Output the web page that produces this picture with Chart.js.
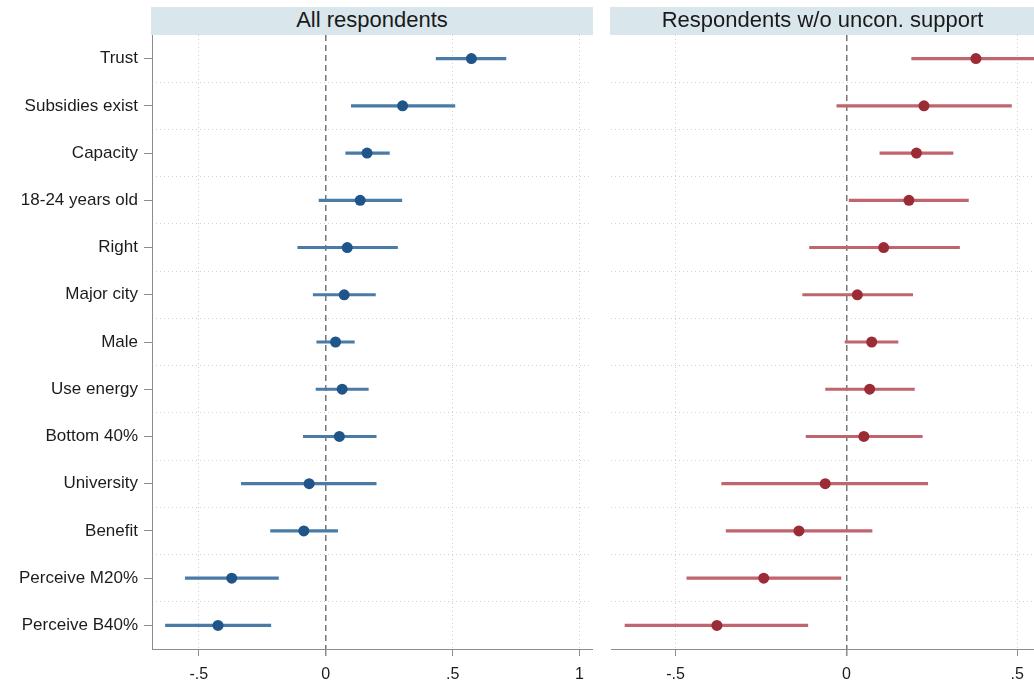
<!DOCTYPE html>
<html>
<head>
<meta charset="utf-8">
<script src="https://cdn.jsdelivr.net/npm/chart.js@4.4.1/dist/chart.umd.min.js"></script>
<style>
  html, body { margin: 0; padding: 0; background: #fff; overflow: hidden; width: 1034px; height: 684px; }
  canvas { position: absolute; top: 0; }
  .hdr { position: absolute; top: 7px; height: 28px; line-height: 28px; background: #d9e6ec;
         font: 22px "Liberation Sans", Arial, sans-serif; color: #1a1a1a; text-align: center; white-space: nowrap; overflow: hidden; }
</style>
</head>
<body>
<canvas id="left" width="600" height="684" style="left:0px"></canvas>
<canvas id="right" width="434" height="684" style="left:600px"></canvas>
<div id="hdrLeft" class="hdr"></div>
<div id="hdrRight" class="hdr"></div>
<script>
// rows, top to bottom
const categories = ["Trust", "Subsidies exist", "Capacity", "18-24 years old", "Right", "Major city",
  "Male", "Use energy", "Bottom 40%", "University", "Benefit", "Perceive M20%", "Perceive B40%"];

// panel 1: all respondents
const allEst = [0.574, 0.303, 0.163, 0.136, 0.085, 0.073, 0.039, 0.065, 0.054, -0.065, -0.086, -0.370, -0.424];
const allLo  = [0.435, 0.101, 0.079, -0.026, -0.110, -0.049, -0.035, -0.038, -0.088, -0.332, -0.217, -0.553, -0.631];
const allHi  = [0.710, 0.509, 0.251, 0.300, 0.283, 0.196, 0.113, 0.168, 0.199, 0.199, 0.047, -0.186, -0.216];

// panel 2: respondents without unconditional support
const subEst = [0.379, 0.227, 0.205, 0.183, 0.109, 0.032, 0.074, 0.068, 0.051, -0.062, -0.139, -0.242, -0.379];
const subLo  = [0.191, -0.028, 0.098, 0.008, -0.108, -0.128, -0.004, -0.061, -0.118, -0.365, -0.352, -0.467, -0.648];
const subHi  = [0.567, 0.483, 0.312, 0.357, 0.331, 0.194, 0.151, 0.199, 0.222, 0.238, 0.075, -0.016, -0.113];

const xTicks = [-0.5, 0, 0.5, 1];
const xTickLabels = ["-.5", "0", ".5", "1"];
const panelTitles = ["All respondents", "Respondents w/o uncon. support"];

const FONT = "'Liberation Sans', Arial, sans-serif";
const AXIS = "#8c8c8c";
const GRID = "#cfcfcf";

function hideEdges(c) {
  return (c.index === 0 || c.index === categories.length) ? "rgba(0,0,0,0)" : GRID;
}

function makePanel(id, est, lo, hi, lineColor, dotColor, xMin, xMax, withLabels) {
  const xAxis = {
    type: "linear", min: xMin, max: xMax,
    afterBuildTicks: s => { s.ticks = xTicks.filter(v => v >= xMin && v <= xMax).map(v => ({ value: v })); },
    ticks: { callback: v => xTickLabels[xTicks.indexOf(v)], font: { family: FONT, size: 16 }, color: "#1c1c1c", padding: 9, maxRotation: 0 },
    grid: {
      color: c => (c.tick && c.tick.value === 0) ? "#777777" : GRID,
      lineWidth: c => (c.tick && c.tick.value === 0) ? 1.5 : 1,
      tickColor: AXIS, tickLength: 7, tickBorderDash: []
    },
    border: { display: true, color: AXIS, width: 1, dash: c => (c.tick && c.tick.value === 0) ? [6, 4] : [1, 3] },
    afterFit: s => { s.height = 35; s.paddingLeft = 0; s.paddingRight = 0; }
  };

  const scales = { x: xAxis };
  if (withLabels) {
    scales.y = {
      type: "category", labels: categories, offset: true, position: "left",
      grid: { drawOnChartArea: false, offset: false, tickLength: 8, tickColor: AXIS },
      border: { display: true, color: AXIS, width: 1 },
      ticks: { font: { family: FONT, size: 17 }, color: "#1c1c1c", padding: 6, autoSkip: false },
      afterFit: s => { s.width = 152; }
    };
    scales.y2 = {
      type: "category", labels: categories, offset: true, position: "left",
      grid: { offset: true, drawTicks: false, color: hideEdges, lineWidth: 1 },
      border: { display: false, dash: [1, 3] },
      ticks: { display: false },
      afterFit: s => { s.width = 0; }
    };
  } else {
    scales.y = {
      type: "category", labels: categories, offset: true, position: "left",
      grid: { offset: true, drawTicks: false, color: hideEdges, lineWidth: 1 },
      border: { display: false, dash: [1, 3] },
      ticks: { display: false },
      afterFit: s => { s.width = 0; }
    };
  }

  return new Chart(document.getElementById(id), {
    type: "bar",
    data: {
      labels: categories,
      datasets: [
        {
          type: "line", indexAxis: "y", data: est, showLine: false, order: 0,
          pointRadius: 5.5, pointHoverRadius: 5.5, pointBorderWidth: 0,
          pointBackgroundColor: dotColor, borderColor: dotColor
        },
        {
          type: "bar", data: categories.map((c, i) => [lo[i], hi[i]]), order: 1,
          backgroundColor: lineColor, borderWidth: 0, barThickness: 2.5
        }
      ]
    },
    options: {
      responsive: false, animation: false, indexAxis: "y",
      layout: { autoPadding: false, padding: { top: 35, bottom: 0, left: withLabels ? 0 : 11, right: withLabels ? 8 : 0 } },
      plugins: { legend: { display: false }, tooltip: { enabled: false } },
      scales: scales
    }
  });
}

const leftChart = makePanel("left", allEst, allLo, allHi, "#4a7aa6", "#1f5589", -0.684, 1.049, true);
const rightChart = makePanel("right", subEst, subLo, subHi, "#c0646d", "#9b2c36", -0.689, 0.549, false);

function placeHeader(divId, chart, offsetX, text) {
  const a = chart.chartArea;
  const d = document.getElementById(divId);
  d.textContent = text;
  d.style.left = (offsetX + a.left - 1) + "px";
  d.style.width = (a.right - a.left + 2) + "px";
}
placeHeader("hdrLeft", leftChart, 0, panelTitles[0]);
placeHeader("hdrRight", rightChart, 600, panelTitles[1]);
</script>
</body>
</html>
